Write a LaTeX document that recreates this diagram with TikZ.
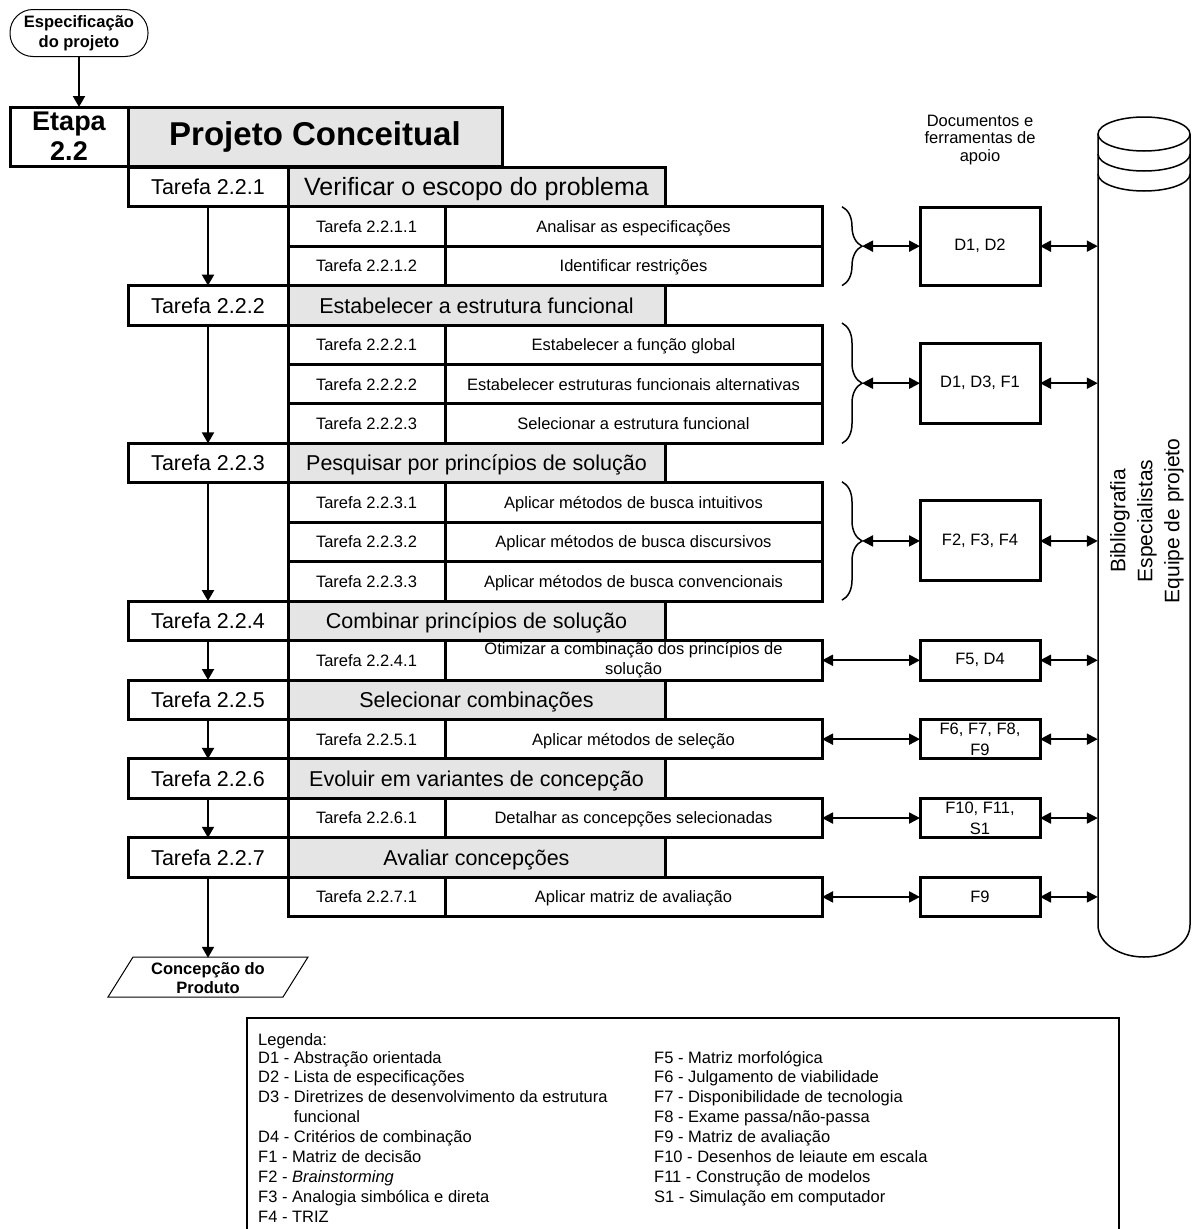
\documentclass[tikz,border=0pt]{standalone}
\usepackage{fontspec}
\setmainfont{Liberation Sans}
\usetikzlibrary{arrows.meta,decorations.pathreplacing}

\begin{document}
\begin{tikzpicture}[%
      x=1pt, y=-1pt,
      caixa/.style={draw, line width=3pt, inner sep=0pt, outer sep=0pt, minimum height=39.44pt},
      grande/.style={text height=19.4pt, text depth=3.9pt, font=\fontsize{21.5}{25}\selectfont},
      pequeno/.style={text height=14.85pt, text depth=3pt, font=\fontsize{16.5}{19.5}\selectfont},
      tarefa/.style={caixa, grande, minimum width=160pt},
      titulo/.style={caixa, grande, fill=black!10, minimum width=377pt},
      subtarefa/.style={caixa, pequeno, minimum width=157pt},
      atividade/.style={caixa, pequeno, minimum width=377pt},
      apoio/.style={caixa, minimum width=120pt, align=center, font=\fontsize{16.5}{21}\selectfont},
      seta/.style={line width=2pt, -{Triangle[length=11pt,width=12pt]}},
      dupla/.style={line width=2pt, {Triangle[length=11pt,width=11pt]}-{Triangle[length=11pt,width=11pt]}},
      chave/.style={decorate, decoration={brace, amplitude=20pt}, line width=1.5pt},
      legenda/.style={anchor=base west, inner sep=0pt, font=\fontsize{16.5}{19.9}\selectfont},
      ]
      \useasboundingbox (0,0) rectangle (1192,1229);

      % entrada e etapa
      \node [draw, line width=1pt, rounded corners=23pt, minimum width=138pt, minimum height=47pt,
             inner sep=0pt, align=center, font=\bfseries\fontsize{16.5}{20.5}\selectfont] (espec) at (79,33) {Especificação\\do projeto};
      \node [caixa, minimum width=118pt, minimum height=59pt, align=center,
             font=\bfseries\fontsize{27}{30}\selectfont] (etapa) at (69,136.5) {Etapa\\2.2};
      \node [caixa, fill=black!10, minimum width=374pt, minimum height=59pt,
             font=\bfseries\fontsize{33}{38}\selectfont] (fase) at (315,136.5) {Projeto Conceitual};

      % tarefas
      \node [tarefa] (t1) at (208,187) {Tarefa 2.2.1};
      \node [titulo, text height=22.5pt, text depth=4.6pt, font=\fontsize{25}{30}\selectfont] (h1) at (476.5,187) {Verificar o escopo do problema};
      \node [subtarefa] (s11) at (366.5,226.44) {Tarefa 2.2.1.1};
      \node [atividade] (a11) at (633.5,226.44) {Analisar as especificações};
      \node [subtarefa] (s12) at (366.5,265.88) {Tarefa 2.2.1.2};
      \node [atividade] (a12) at (633.5,265.88) {Identificar restrições};

      \node [tarefa] (t2) at (208,305.32) {Tarefa 2.2.2};
      \node [titulo] (h2) at (476.5,305.32) {Estabelecer a estrutura funcional};
      \node [subtarefa] (s21) at (366.5,344.76) {Tarefa 2.2.2.1};
      \node [atividade] (a21) at (633.5,344.76) {Estabelecer a função global};
      \node [subtarefa] (s22) at (366.5,384.2) {Tarefa 2.2.2.2};
      \node [atividade] (a22) at (633.5,384.2) {Estabelecer estruturas funcionais alternativas};
      \node [subtarefa] (s23) at (366.5,423.64) {Tarefa 2.2.2.3};
      \node [atividade] (a23) at (633.5,423.64) {Selecionar a estrutura funcional};

      \node [tarefa] (t3) at (208,463.08) {Tarefa 2.2.3};
      \node [titulo] (h3) at (476.5,463.08) {Pesquisar por princípios de solução};
      \node [subtarefa] (s31) at (366.5,502.52) {Tarefa 2.2.3.1};
      \node [atividade] (a31) at (633.5,502.52) {Aplicar métodos de busca intuitivos};
      \node [subtarefa] (s32) at (366.5,541.96) {Tarefa 2.2.3.2};
      \node [atividade] (a32) at (633.5,541.96) {Aplicar métodos de busca discursivos};
      \node [subtarefa] (s33) at (366.5,581.4) {Tarefa 2.2.3.3};
      \node [atividade] (a33) at (633.5,581.4) {Aplicar métodos de busca convencionais};

      \node [tarefa] (t4) at (208,620.84) {Tarefa 2.2.4};
      \node [titulo] (h4) at (476.5,620.84) {Combinar princípios de solução};
      \node [subtarefa] (s41) at (366.5,660.28) {Tarefa 2.2.4.1};
      \node [caixa, minimum width=377pt, align=center, font=\fontsize{16.5}{19.5}\selectfont]
            (a41) at (633.5,660.28) {Otimizar a combinação dos princípios de\\solução};

      \node [tarefa] (t5) at (208,699.72) {Tarefa 2.2.5};
      \node [titulo] (h5) at (476.5,699.72) {Selecionar combinações};
      \node [subtarefa] (s51) at (366.5,739.16) {Tarefa 2.2.5.1};
      \node [atividade] (a51) at (633.5,739.16) {Aplicar métodos de seleção};

      \node [tarefa] (t6) at (208,778.6) {Tarefa 2.2.6};
      \node [titulo] (h6) at (476.5,778.6) {Evoluir em variantes de concepção};
      \node [subtarefa] (s61) at (366.5,818.04) {Tarefa 2.2.6.1};
      \node [atividade] (a61) at (633.5,818.04) {Detalhar as concepções selecionadas};

      \node [tarefa] (t7) at (208,857.48) {Tarefa 2.2.7};
      \node [titulo] (h7) at (476.5,857.48) {Avaliar concepções};
      \node [subtarefa] (s71) at (366.5,896.92) {Tarefa 2.2.7.1};
      \node [atividade] (a71) at (633.5,896.92) {Aplicar matriz de avaliação};

      % saida
      \draw [line width=1pt] (133,957) -- (308,957) -- (283,997) -- (108,997) -- cycle;
      \node [inner sep=0pt, minimum height=40pt, align=center,
             font=\bfseries\fontsize{16.5}{19.5}\selectfont] (concep) at (208,978) {Concepção do\\Produto};

      % documentos e ferramentas
      \node [align=center, font=\fontsize{16.5}{17.5}\selectfont] (docs) at (980,140) {Documentos e\\ferramentas de\\apoio};
      \node [apoio, minimum height=78pt] (d1) at (980,246.16) {D1, D2};
      \node [apoio, minimum height=80pt] (d2) at (980,383.2) {D1, D3, F1};
      \node [apoio, minimum height=80pt] (d3) at (980,540.96) {F2, F3, F4};
      \node [apoio] (d4) at (980,660.28) {F5, D4};
      \node [apoio] (d5) at (980,739.16) {F6, F7, F8,\\F9};
      \node [apoio] (d6) at (980,818.04) {F10, F11,\\S1};
      \node [apoio] (d7) at (980,896.92) {F9};

      % base de conhecimento
      \node [inner sep=0pt, minimum width=92pt, minimum height=790pt] (cyl) at (1144,540) {};
      \draw [line width=1.5pt] (1098,134) -- (1098,925)
            arc [start angle=180, end angle=360, x radius=46pt, y radius=32pt] -- (1190,134);
      \draw [line width=1.5pt] (1144,134) ellipse [x radius=46pt, y radius=17pt];
      \draw [line width=1.5pt] (1098,154) arc [start angle=180, end angle=360, x radius=46pt, y radius=17pt];
      \draw [line width=1.5pt] (1098,174) arc [start angle=180, end angle=360, x radius=46pt, y radius=17pt];
      \node [rotate=90, align=center, font=\fontsize{21}{27}\selectfont] (equipe) at (1147,521)
            {Bibliografia\\Especialistas\\Equipe de projeto};

      % chaves
      \draw [chave] (842,206.72) -- (842,285.6);
      \draw [chave] (842,323.04) -- (842,443.36);
      \draw [chave] (842,481.8) -- (842,600.12);
      \coordinate (c1) at (862,246.16);
      \coordinate (c2) at (862,383.2);
      \coordinate (c3) at (862,540.96);

      % setas
      \draw [seta] (espec.south) -- (espec.south |- etapa.north);
      \draw [seta] (t1.south) -- (t2.north);
      \draw [seta] (t2.south) -- (t3.north);
      \draw [seta] (t3.south) -- (t4.north);
      \draw [seta] (t4.south) -- (t5.north);
      \draw [seta] (t5.south) -- (t6.north);
      \draw [seta] (t6.south) -- (t7.north);
      \draw [seta] (t7.south) -- (concep.north);

      \draw [dupla] (c1) -- (d1.west);
      \draw [dupla] (c2) -- (d2.west);
      \draw [dupla] (c3) -- (d3.west);
      \draw [dupla] (a41.east) -- (d4.west);
      \draw [dupla] (a51.east) -- (d5.west);
      \draw [dupla] (a61.east) -- (d6.west);
      \draw [dupla] (a71.east) -- (d7.west);
      \draw [dupla] (d1.east) -- (d1.east -| cyl.west);
      \draw [dupla] (d2.east) -- (d2.east -| cyl.west);
      \draw [dupla] (d3.east) -- (d3.east -| cyl.west);
      \draw [dupla] (d4.east) -- (d4.east -| cyl.west);
      \draw [dupla] (d5.east) -- (d5.east -| cyl.west);
      \draw [dupla] (d6.east) -- (d6.east -| cyl.west);
      \draw [dupla] (d7.east) -- (d7.east -| cyl.west);

      % legenda
      \draw [line width=1.5pt] (247,1240) -- (247,1018) -- (1119,1018) -- (1119,1240);
      \node [legenda] (leg) at (258,1045) {Legenda:};
      \foreach \txt [count=\i] in {D1 - Abstração orientada, D2 - Lista de especificações,
            D3 - Diretrizes de desenvolvimento da estrutura, \phantom{D3 - }funcional,
            D4 - Critérios de combinação, F1 - Matriz de decisão, F2 - \textit{Brainstorming},
            F3 - Analogia simbólica e direta, F4 - TRIZ}
        \node [legenda] (legD\i) at (258,1043.1+19.9*\i) {\txt};
      \foreach \txt [count=\i] in {F5 - Matriz morfológica, F6 - Julgamento de viabilidade,
            F7 - Disponibilidade de tecnologia, F8 - Exame passa/não-passa,
            F9 - Matriz de avaliação, F10 - Desenhos de leiaute em escala,
            F11 - Construção de modelos, S1 - Simulação em computador}
        \node [legenda] (legF\i) at (654,1043.1+19.9*\i) {\txt};
\end{tikzpicture}
\end{document}
